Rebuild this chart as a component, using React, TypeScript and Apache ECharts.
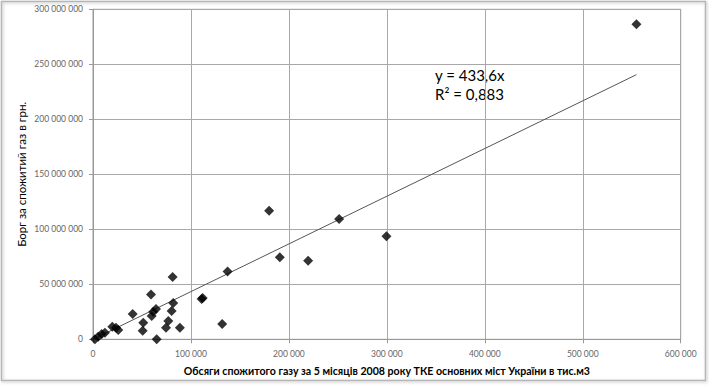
import React, { useEffect, useRef } from "react";
import * as echarts from "echarts";

const gasVolume: number[] = [
  2000, 5300, 8900, 12200, 19700, 23500, 25800, 40500, 50700, 51300,
  59200, 59900, 61500, 64300, 65000, 74500, 76900, 80300, 81300, 81900,
  88700, 110900, 112000, 131900, 137400, 179800, 190700, 219600, 251300,
  299600, 554800,
];
const debt: number[] = [
  0, 2400000, 4800000, 6000000, 11500000, 10600000, 8500000, 23000000,
  7800000, 15100000, 40700000, 21200000, 25100000, 27500000, 0, 10500000,
  16600000, 25700000, 56600000, 33100000, 10500000, 36600000, 37500000,
  13900000, 61700000, 116900000, 74500000, 71500000, 109400000, 93700000,
  286300000,
];
const trendSlope = 433.6;
const trendLabel = ["y = 433,6x", "R² = 0,883"];
const yAxisTitle = "Борг за спожитий газ в грн.";
const xAxisTitle =
  "Обсяги спожитого газу за 5 місяців 2008 року ТКЕ основних міст України в тис.м3";

const fmt = (v: number) =>
  String(Math.round(v)).replace(/\B(?=(\d{3})+(?!\d))/g, " ");

export default function App() {
  const ref = useRef<HTMLDivElement>(null);
  useEffect(() => {
    if (!ref.current) return;
    const chart = echarts.init(ref.current, undefined, { renderer: "svg" });
    const points = gasVolume.map((x, i) => [x, debt[i]]);
    const maxX = Math.max(...gasVolume);
    const font = "Lato, 'Liberation Sans', sans-serif";
    chart.setOption({
      animation: false,
      backgroundColor: "#ffffff",
      textStyle: { fontFamily: font },
      grid: {
        left: 93,
        top: 9.3,
        right: 28.3,
        bottom: 46.7,
        show: true,
        borderColor: "#9a9a9a",
        borderWidth: 1,
      },
      xAxis: {
        type: "value",
        min: 0,
        max: 600000,
        interval: 100000,
        name: xAxisTitle,
        nameLocation: "middle",
        nameGap: 26,
        nameMoveOverlap: false,
        nameTextStyle: {
          fontSize: 10.6,
          fontWeight: "bold",
          color: "#000",
          fontFamily: font,
        },
        axisLine: { show: true, lineStyle: { color: "#9a9a9a" } },
        axisTick: { show: true, length: 4, lineStyle: { color: "#9a9a9a" } },
        splitLine: { show: true, lineStyle: { color: "#a8a8a8" } },
        axisLabel: {
          formatter: fmt,
          fontSize: 8.5,
          color: "#666",
          margin: 10,
          fontFamily: font,
        },
      },
      yAxis: {
        type: "value",
        min: 0,
        max: 300000000,
        interval: 50000000,
        name: yAxisTitle,
        nameLocation: "middle",
        nameRotate: 90,
        nameGap: 66,
        nameMoveOverlap: false,
        nameTextStyle: { fontSize: 11.5, color: "#000", fontFamily: font },
        axisLine: { show: true, lineStyle: { color: "#9a9a9a" } },
        axisTick: { show: true, length: 4, lineStyle: { color: "#9a9a9a" } },
        splitLine: { show: true, lineStyle: { color: "#a8a8a8" } },
        axisLabel: {
          formatter: fmt,
          fontSize: 8.5,
          color: "#666",
          margin: 10,
          fontFamily: font,
        },
      },
      series: [
        {
          type: "line",
          data: [
            [0, 0],
            [maxX, trendSlope * maxX],
          ],
          symbol: "none",
          lineStyle: { color: "#555", width: 1 },
          silent: true,
          z: 1,
        },
        {
          type: "scatter",
          data: points,
          symbol: "diamond",
          symbolSize: [10, 10],
          itemStyle: { color: "#000" },
          z: 2,
        },
      ],
      graphic: [
        {
          type: "rect",
          shape: { x: 1.5, y: 1.5, width: 704, height: 379 },
          style: {
            fill: "none",
            stroke: "#b5b5b5",
            lineWidth: 1.5,
            shadowColor: "rgba(0,0,0,0.25)",
            shadowBlur: 3,
            shadowOffsetX: 1,
            shadowOffsetY: 1,
          },
          silent: true,
        },
        {
          type: "text",
          left: 435,
          top: 65,
          style: {
            text: trendLabel.join("\n"),
            font: `15px ${font}`,
            fill: "#000",
            lineHeight: 19,
          },
        },
      ],
    });
    return () => chart.dispose();
  }, []);
  return (
    <div
      ref={ref}
      style={{ position: "fixed", left: 0, top: 0, width: 709, height: 386 }}
    />
  );
}
